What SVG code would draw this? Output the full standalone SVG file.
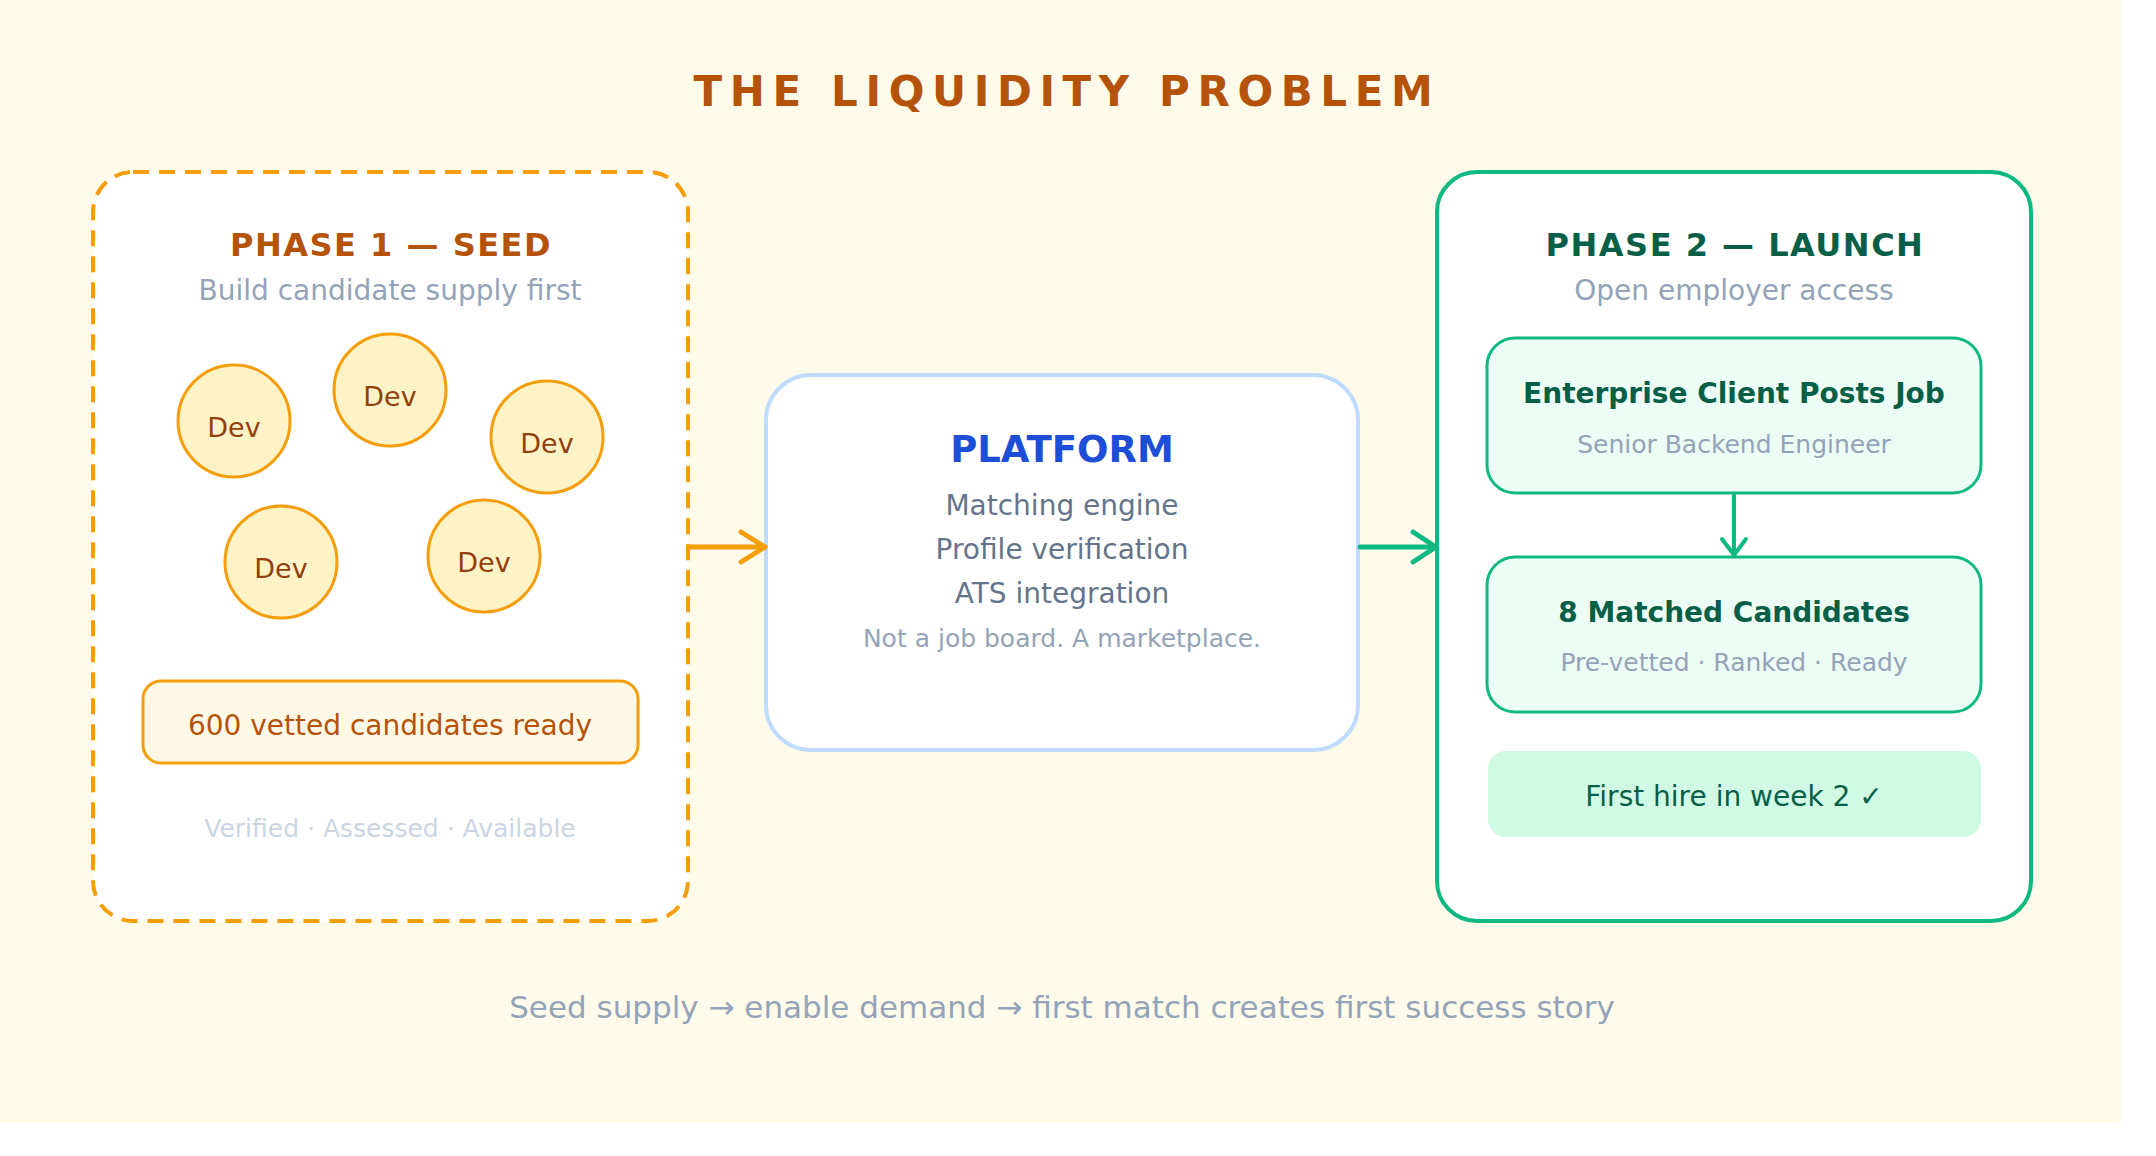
<svg xmlns="http://www.w3.org/2000/svg" width="2156" height="1156" viewBox="0 0 2156 1156">
  <defs>
    <style>
      text { font-family: "DejaVu Sans", "Liberation Sans", sans-serif; text-anchor: middle; }
      .title { font-size: 42px; font-weight: bold; fill: #b45309; letter-spacing: 7.6px; }
      .phase { font-size: 32px; font-weight: bold; letter-spacing: 1.5px; }
      .sub { font-size: 28px; fill: #94a3b8; }
      .dev circle { fill: #fef3c7; stroke: #f59e0b; stroke-width: 3; }
      .dev text { font-size: 27px; fill: #92400e; }
      .card { fill: #ecfdf5; stroke: #10b981; stroke-width: 3; }
      .cardTitle { font-size: 28px; font-weight: bold; fill: #065f46; }
      .cardSub { font-size: 25px; fill: #94a3b8; }
      .pline { font-size: 28px; fill: #64748b; }
    </style>
    <marker id="headOrange" viewBox="0 0 30 36" refX="27" refY="18" markerWidth="30" markerHeight="36" markerUnits="userSpaceOnUse" orient="auto">
      <path d="M3 3 L27 18 L3 33" fill="none" stroke="#f59e0b" stroke-width="5" stroke-linecap="round" stroke-linejoin="round"/>
    </marker>
    <marker id="headGreen" viewBox="0 0 30 36" refX="27" refY="18" markerWidth="30" markerHeight="36" markerUnits="userSpaceOnUse" orient="auto">
      <path d="M4 3 L27 18 L4 33" fill="none" stroke="#10b981" stroke-width="5" stroke-linecap="round" stroke-linejoin="round"/>
    </marker>
    <marker id="headGreenSmall" viewBox="0 0 22 30" refX="19" refY="15" markerWidth="22" markerHeight="30" markerUnits="userSpaceOnUse" orient="auto">
      <path d="M3 3 L19 15 L3 27" fill="none" stroke="#10b981" stroke-width="4" stroke-linecap="round" stroke-linejoin="round"/>
    </marker>
  </defs>

  <rect x="0" y="0" width="2156" height="1156" fill="#ffffff"/>
  <rect x="0" y="0" width="2122" height="1123" fill="#fffbeb"/>

  <text class="title" x="1067" y="106">THE LIQUIDITY PROBLEM</text>

  <g id="phase1">
    <rect x="93" y="172" width="595" height="749" rx="40" fill="#ffffff" stroke="#f59e0b" stroke-width="4" stroke-dasharray="16 10"/>
    <text class="phase" x="391" y="256" fill="#b45309">PHASE 1 — SEED</text>
    <text class="sub" x="390" y="300">Build candidate supply first</text>
    <g class="dev" id="dev1"><circle cx="234" cy="421" r="56"/><text x="234" y="437">Dev</text></g>
    <g class="dev" id="dev2"><circle cx="390" cy="390" r="56"/><text x="390" y="406">Dev</text></g>
    <g class="dev" id="dev3"><circle cx="547" cy="437" r="56"/><text x="547" y="453">Dev</text></g>
    <g class="dev" id="dev4"><circle cx="281" cy="562" r="56"/><text x="281" y="578">Dev</text></g>
    <g class="dev" id="dev5"><circle cx="484" cy="556" r="56"/><text x="484" y="572">Dev</text></g>
    <g id="supply">
      <rect x="143" y="681" width="495" height="82" rx="18" fill="#fef9e6" stroke="#f59e0b" stroke-width="3"/>
      <text x="390" y="735" font-size="28" fill="#b45309">600 vetted candidates ready</text>
    </g>
    <text x="390" y="837" font-size="25" fill="#cbd5e1">Verified · Assessed · Available</text>
  </g>

  <g id="platform">
    <rect x="766" y="375" width="592" height="375" rx="45" fill="#ffffff" stroke="#bfdbfe" stroke-width="4"/>
    <text x="1062" y="462" font-size="37" font-weight="bold" fill="#1d4ed8">PLATFORM</text>
    <text class="pline" x="1062" y="515">Matching engine</text>
    <text class="pline" x="1062" y="559">Profile verification</text>
    <text class="pline" x="1062" y="603">ATS integration</text>
    <text x="1062" y="647" font-size="25" fill="#94a3b8">Not a job board. A marketplace.</text>
  </g>

  <g id="phase2">
    <rect x="1437" y="172" width="594" height="749" rx="40" fill="#ffffff" stroke="#10b981" stroke-width="4"/>
    <text class="phase" x="1735" y="256" fill="#065f46">PHASE 2 — LAUNCH</text>
    <text class="sub" x="1734" y="300">Open employer access</text>
    <g id="job">
      <rect class="card" x="1487" y="338" width="494" height="155" rx="28"/>
      <text class="cardTitle" x="1734" y="403">Enterprise Client Posts Job</text>
      <text class="cardSub" x="1734" y="453">Senior Backend Engineer</text>
    </g>
    <g id="matched">
      <rect class="card" x="1487" y="557" width="494" height="155" rx="28"/>
      <text class="cardTitle" x="1734" y="622">8 Matched Candidates</text>
      <text class="cardSub" x="1734" y="671">Pre-vetted · Ranked · Ready</text>
    </g>
    <g id="hire">
      <rect x="1488" y="751" width="493" height="86" rx="18" fill="#d1fae5"/>
      <text x="1734" y="806" font-size="28" fill="#065f46">First hire in week 2 ✓</text>
    </g>
  </g>

  <g id="connectors" fill="none" stroke-linecap="round">
    <path d="M689 547 L765 547" stroke="#f59e0b" stroke-width="5" marker-end="url(#headOrange)"/>
    <path d="M1360 547 L1436 547" stroke="#10b981" stroke-width="5" marker-end="url(#headGreen)"/>
    <path d="M1734 495 L1734 555" stroke="#10b981" stroke-width="4" marker-end="url(#headGreenSmall)"/>
  </g>

  <text x="1062" y="1018" font-size="31" fill="#94a3b8">Seed supply → enable demand → first match creates first success story</text>
</svg>
